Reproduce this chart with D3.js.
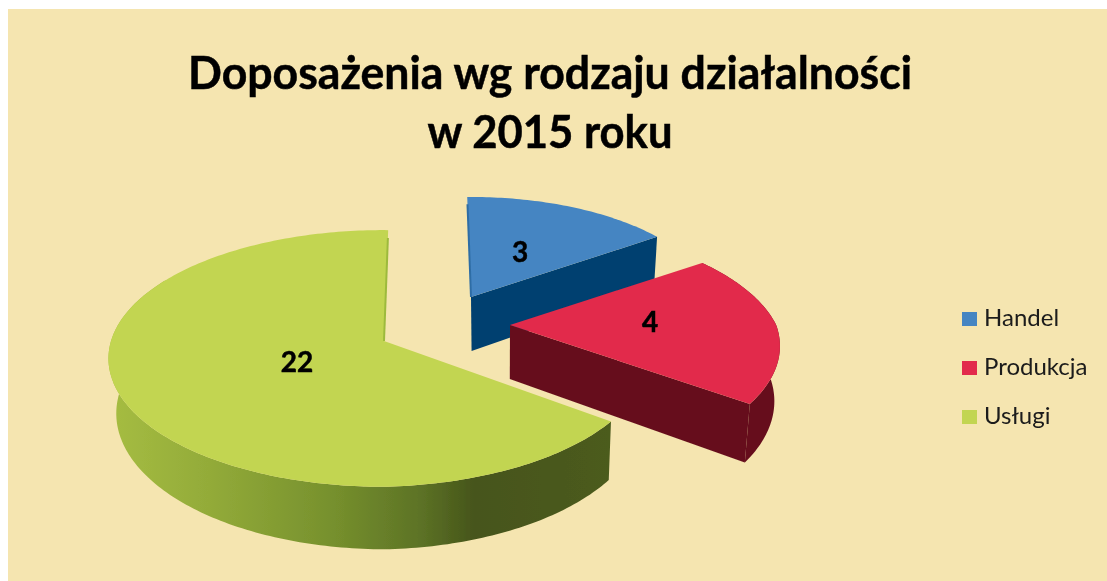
<!DOCTYPE html>
<html><head><meta charset="utf-8">
<script src="https://cdn.jsdelivr.net/npm/d3@7"></script>
<style>html,body{margin:0;padding:0;background:#fff;overflow:hidden}svg{display:block}text{font-family:Lato,"Open Sans",sans-serif}</style>
</head><body><div id="c"></div>
<script>
const titleLines = ["Doposażenia wg rodzaju działalności", "w 2015 roku"];
const categories = ["Handel", "Produkcja", "Usługi"];
const dataLabels = [3, 4, 22];
// Angular width of each sector (degrees)
const sectorSweeps = [56, 70.5, 233.5];
const topColors = ["#4485c2", "#e22b4b", "#c2d551"];
const wallColors = ["#023f70", "#66101d", "#4a5a1c"];

const W = 1107, H = 581;
const svg = d3.select("#c").append("svg").attr("width", W).attr("height", H);
const defs = svg.append("defs");
defs.append("filter").attr("id", "soft").attr("x", "-5%").attr("y", "-5%").attr("width", "110%").attr("height", "110%")
  .append("feGaussianBlur").attr("stdDeviation", 0.6);
const grad = defs.append("linearGradient").attr("id", "wallGrad").attr("gradientUnits", "userSpaceOnUse")
  .attr("x1", 108).attr("x2", 610).attr("y1", 0).attr("y2", 0);
[[0, "#a6bd42"], [0.2, "#93ab39"], [0.45, "#76902d"], [0.62, "#5d7326"], [0.73, "#46551a"], [1, "#4c5b1d"]]
  .forEach(([o, c]) => grad.append("stop").attr("offset", o).attr("stop-color", c));

svg.append("rect").attr("x", 8).attr("y", 9).attr("width", W - 8).attr("height", H - 9).attr("fill", "#f5e5b0");

const g = svg.append("g").attr("filter", "url(#soft)");

// Projection of the tilted disc
const R = 273, kR = 126, persp = 0.136, depth = 54, vanishX = 500, converge = 0.02;
const layout = [
  { cx: 471, cy: 297, scale: 0.89, rot: 0, a: 0, b: 0, bn: 0 },
  { cx: 510, cy: 325, scale: 0.975, rot: 0, a: 0, b: 0.035, bn: 0.1 },
  { cx: 384, cy: 341, scale: 1, rot: 2, a: 0.045, b: 0, bn: 0 }
];
const rad = d => d * Math.PI / 180;
function project(i, theta, r, low) {
  const L = layout[i], t = theta + rad(L.rot);
  let u = r * Math.sin(t) * L.scale, v = -r * Math.cos(t) * L.scale;
  const f = 1 - L.a * Math.max(u, 0) + (v > 0 ? L.b : L.bn) * v;
  u *= f; v *= f;
  const s = 1 / (1 - persp * v);
  let x = L.cx + R * u * s, y = L.cy + kR * v * s;
  if (low) { x += converge * (vanishX - x); y += depth * s; }
  return [x, y];
}
const line = d3.line();

const pie = d3.pie().sort(null).value(d => d).startAngle(rad(-1)).endAngle(rad(359));
const arcs = pie(sectorSweeps);
const samples = (a0, a1) => { const n = Math.max(2, Math.ceil((a1 - a0) / rad(1))); return d3.range(n + 1).map(j => a0 + (a1 - a0) * j / n); };

// painter's order: back sector, large sector, front sector
[0, 2, 1].forEach(i => {
  const a = arcs[i], th = samples(a.startAngle, a.endAngle);
  // outer wall (the large sector only shows its front part)
  if (i !== 0) {
    const wallTh = i === 2 ? th.filter(t => Math.cos(t) < 0.5) : th;
    const pts = wallTh.map(t => project(i, t, 1, false)).concat(wallTh.slice().reverse().map(t => project(i, t, 1, true)));
    g.append("path").attr("d", line(pts) + "Z").attr("fill", i === 2 ? "url(#wallGrad)" : wallColors[i]);
  }
  // cut face along the sector's right-hand edge
  if (i !== 2) {
    const e = a.endAngle;
    g.append("path").attr("d", line([project(i, 0, 0, false), project(i, e, 1, false), project(i, e, 1, true), project(i, 0, 0, true)]) + "Z")
      .attr("fill", wallColors[i]);
  }
  // top face
  const top = [project(i, 0, 0, false)].concat(th.map(t => project(i, t, 1, false)));
  g.append("path").attr("d", line(top) + "Z").attr("fill", topColors[i]);
  // thin visible edge of the far cut
  if (i !== 1) {
    g.append("path").attr("d", line([project(i, i === 2 ? a.endAngle : a.startAngle, 0.92, false), project(i, 0, 0, false)]))
      .attr("fill", "none").attr("stroke", i === 2 ? "#9dba3c" : "#2f6da5").attr("stroke-width", 2);
  }
});

// data labels
const labelPos = [[520, 262], [650, 332], [297, 372]];
g.selectAll(".lab").data(dataLabels).join("text").attr("class", "lab")
  .attr("x", (d, i) => labelPos[i][0]).attr("y", (d, i) => labelPos[i][1])
  .attr("text-anchor", "middle").attr("font-size", 28).attr("font-weight", 700)
  .attr("fill", "#000").attr("stroke", "#000").attr("stroke-width", 0.5).text(d => d);

// title
const titleWidths = [724, 245];
g.selectAll(".ttl").data(titleLines).join("text").attr("class", "ttl")
  .attr("x", 550).attr("y", (d, i) => 89 + i * 59)
  .attr("text-anchor", "middle").attr("font-size", 45).attr("font-weight", 700)
  .attr("textLength", (d, i) => titleWidths[i]).attr("lengthAdjust", "spacingAndGlyphs")
  .attr("fill", "#000").attr("stroke", "#000").attr("stroke-width", 0.5).text(d => d);

// legend
const yLegend = d3.scalePoint().domain(categories).range([319, 417]);
const leg = g.selectAll(".leg").data(categories).join("g").attr("class", "leg").attr("transform", d => `translate(962,${yLegend(d)})`);
leg.append("rect").attr("x", 0).attr("y", -7).attr("width", 15).attr("height", 14).attr("fill", (d, i) => topColors[i]);
leg.append("text").attr("x", 22).attr("y", 7).attr("font-size", 24).attr("fill", "#1a1a1a").text(d => d);
</script></body></html>
